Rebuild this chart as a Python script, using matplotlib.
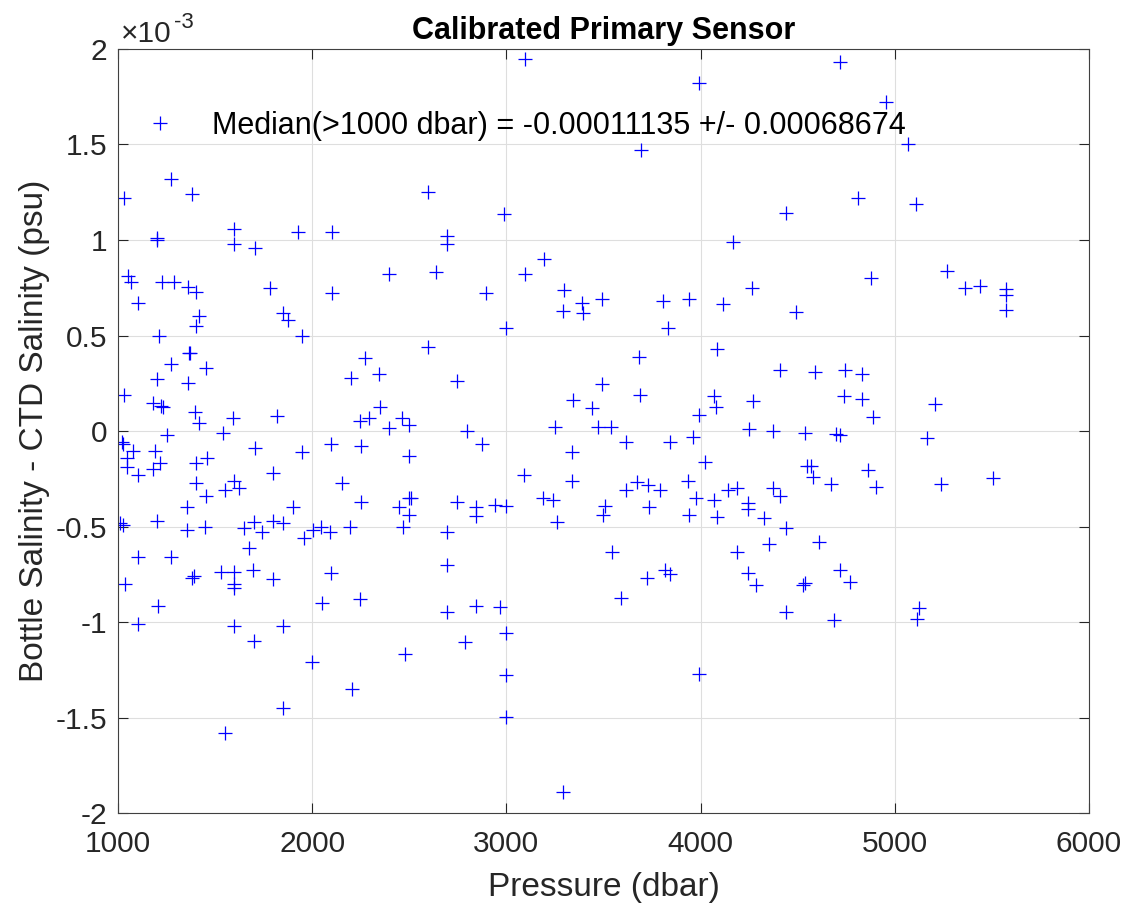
import matplotlib
matplotlib.use("Agg")
import matplotlib.pyplot as plt
import numpy as np

# Bottle minus CTD salinity (units of 1e-3 psu) against pressure (dbar)
pressure = [
    1273, 1031, 1380, 1597, 1597, 1203, 1203, 1703, 1925, 2100, 2596,
    1051, 1068, 1227, 1288, 1360, 1401, 1103, 1783, 2100, 2396, 2638,
    1850, 1877, 1948, 1417, 1401, 1211, 2596, 1366, 1370, 2272, 1273,
    1452, 2344, 1203, 1362, 2201,
    1033, 1180, 1222, 1230, 1398, 1419, 1594, 1819, 2247, 2295, 2394,
    2463, 2501, 1250, 1542, 2347,
    1019, 1025, 1075, 1190, 1045, 1216, 1045, 1180, 1103, 1402, 1460,
    1402, 1452, 1356, 1705, 1597, 1623, 1551, 1798, 1946, 1899, 2096,
    2249, 2152, 2249, 2446, 2498, 2498, 2510, 2498, 2467, 2195, 2045,
    2092, 2003, 1957, 1849, 1797, 1742, 1701, 1649, 1673, 1448, 1356,
    1201, 1010, 1027, 1103, 1273, 1037, 1206, 1103, 1380, 1390, 1531,
    1599, 1599, 1599, 1697, 1798, 1597, 1700, 1849, 1997, 2096, 2050,
    2246, 2204, 2478, 1849, 1551,
    3094, 3993, 3692, 2988, 2696, 2696, 4168, 3196, 3094, 2893, 3297,
    3292, 3391, 3395, 3490, 3807, 3941, 4117, 4263, 3833, 2996, 3683,
    4082, 2747, 3490, 3343, 3690, 4070, 4079, 4268, 3443, 3993, 2797,
    3249, 3472, 3541, 4250,
    2876, 3618, 3842, 3962, 3340, 4022, 3091, 3340, 3670, 3730, 3790,
    3615, 3936, 4185, 4139, 2745, 2845, 2845, 2943, 2998, 3189, 3240,
    3258, 3507, 3495, 3735, 3941, 3974, 4069, 4086, 4242, 4242, 4188,
    3546, 2696, 2696, 2696, 2845, 2965, 2996, 2785, 2996, 2996, 3292,
    3588, 3722, 3816, 3842, 3993, 4245, 4285,
    4718, 4955, 5067, 4812, 4440, 5110, 5271, 5362, 5440, 5574, 5574,
    5574, 4876, 4490, 4409, 4589, 4744, 4830, 4739, 4830, 4886, 5208,
    4371, 4538, 4697, 4716, 5168,
    4546, 4569, 4580, 4670, 4864, 4904, 5239, 5505, 4371, 4409, 4328,
    4440, 4352, 4610, 4526, 4538, 4716, 4768, 4440, 4687, 5125, 5113,
]
salinity_diff = [
    1.32, 1.22, 1.24, 1.06, 0.98, 1.00, 1.01, 0.96, 1.04, 1.04, 1.25,
    0.81, 0.78, 0.78, 0.78, 0.755, 0.73, 0.67, 0.75, 0.72, 0.82, 0.835,
    0.62, 0.58, 0.495, 0.60, 0.55, 0.50, 0.44, 0.41, 0.41, 0.38, 0.35,
    0.33, 0.30, 0.27, 0.25, 0.28,
    0.19, 0.145, 0.13, 0.125, 0.10, 0.04, 0.07, 0.08, 0.05, 0.07, 0.015,
    0.07, 0.03, -0.02, -0.01, 0.127,
    -0.06, -0.07, -0.105, -0.105, -0.14, -0.17, -0.19, -0.20, -0.23, -0.17, -0.14,
    -0.27, -0.34, -0.40, -0.09, -0.26, -0.30, -0.31, -0.22, -0.108, -0.40, -0.07,
    -0.08, -0.27, -0.37, -0.40, -0.13, -0.35, -0.35, -0.44, -0.50, -0.50, -0.50,
    -0.53, -0.52, -0.56, -0.48, -0.47, -0.53, -0.475, -0.51, -0.61, -0.50, -0.52,
    -0.47, -0.48, -0.49, -0.66, -0.66, -0.80, -0.915, -1.01, -0.77, -0.76, -0.74,
    -0.74, -0.80, -0.82, -0.73, -0.775, -1.02, -1.10, -1.02, -1.21, -0.745, -0.90,
    -0.88, -1.35, -1.17, -1.45, -1.58,
    1.95, 1.82, 1.47, 1.135, 1.02, 0.98, 0.99, 0.90, 0.82, 0.725, 0.74,
    0.63, 0.67, 0.62, 0.69, 0.68, 0.69, 0.665, 0.75, 0.54, 0.54, 0.39,
    0.43, 0.26, 0.245, 0.16, 0.19, 0.185, 0.125, 0.155, 0.12, 0.085, 0.0,
    0.02, 0.02, 0.02, 0.01,
    -0.07, -0.055, -0.06, -0.03, -0.11, -0.16, -0.23, -0.26, -0.265, -0.285, -0.31,
    -0.31, -0.26, -0.30, -0.31, -0.37, -0.40, -0.445, -0.39, -0.395, -0.35, -0.36,
    -0.475, -0.395, -0.44, -0.40, -0.44, -0.35, -0.36, -0.45, -0.375, -0.41, -0.635,
    -0.635, -0.53, -0.70, -0.95, -0.915, -0.92, -1.06, -1.105, -1.28, -1.495, -1.89,
    -0.875, -0.77, -0.73, -0.75, -1.27, -0.745, -0.805,
    1.93, 1.72, 1.50, 1.22, 1.14, 1.19, 0.84, 0.75, 0.76, 0.745, 0.71,
    0.635, 0.80, 0.625, 0.32, 0.31, 0.32, 0.30, 0.185, 0.165, 0.075, 0.14,
    0.0, -0.01, -0.015, -0.02, -0.035,
    -0.185, -0.185, -0.24, -0.275, -0.205, -0.295, -0.275, -0.245, -0.30, -0.34, -0.455,
    -0.51, -0.59, -0.58, -0.805, -0.795, -0.73, -0.79, -0.945, -0.99, -0.925, -0.985,
]

x_ticks = [1000, 2000, 3000, 4000, 5000, 6000]
y_ticks = [-2, -1.5, -1, -0.5, 0, 0.5, 1, 1.5, 2]
legend_label = "Median(>1000 dbar) = -0.00011135 +/- 0.00068674"

plt.rcParams["font.family"] = ["Liberation Sans", "DejaVu Sans"]
plt.rcParams["axes.unicode_minus"] = False

text_color = "#262626"
fig = plt.figure(figsize=(11.27, 9.09), dpi=100)
ax = fig.add_axes([0.1047, 0.1056, 0.8616, 0.8405])

ax.plot(pressure, salinity_diff, linestyle="none", marker="+",
        color="#0000ff", markersize=10, markeredgewidth=0.9,
        label=legend_label)

ax.set_xlim(1000, 6000)
ax.set_ylim(-2, 2)
ax.set_xticks(x_ticks)
ax.set_yticks(y_ticks)
ax.set_xticklabels([str(v) for v in x_ticks])
ax.set_yticklabels(["{:g}".format(v) for v in y_ticks])
ax.grid(True, color="#dedede", linewidth=0.8)
ax.set_axisbelow(True)

for spine in ax.spines.values():
    spine.set_color("#404040")
    spine.set_linewidth(0.8)
ax.tick_params(axis="both", direction="in", length=7, width=0.8,
               color="#262626", labelsize=21.5, labelcolor=text_color,
               top=True, right=True)
ax.tick_params(axis="x", pad=12)
ax.tick_params(axis="y", pad=8)

ax.set_xlabel("Pressure (dbar)", fontsize=24, color=text_color, labelpad=10)
ax.set_ylabel("Bottle Salinity - CTD Salinity (psu)", fontsize=24,
              color=text_color, labelpad=4)
ax.set_title("Calibrated Primary Sensor", fontsize=22, fontweight="bold",
             pad=7)

# exponent label in the MATLAB style
ax.annotate("\u00d710", xy=(0, 1), xycoords="axes fraction",
            xytext=(2, 5), textcoords="offset points", fontsize=21.5,
            color=text_color, va="baseline", ha="left")
ax.annotate("-3", xy=(0, 1), xycoords="axes fraction",
            xytext=(40, 15), textcoords="offset points", fontsize=16,
            color=text_color, va="baseline", ha="left")

ax.legend(loc="center left", bbox_to_anchor=(0.015, 0.899), frameon=False,
          fontsize=22, handlelength=1.0, handletextpad=1.2,
          borderaxespad=0, borderpad=0.4)

plt.savefig("out.png", dpi=100)
